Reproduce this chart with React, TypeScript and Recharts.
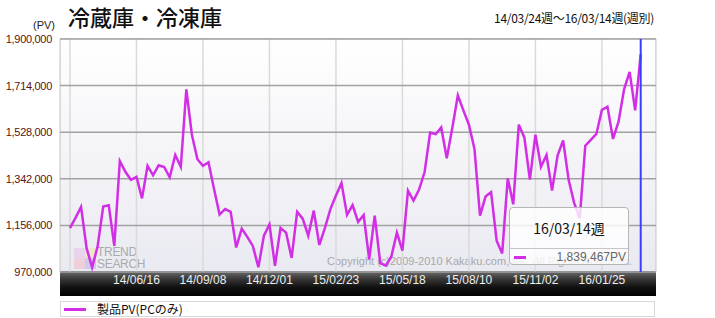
import React from 'react';
import { LineChart, Line, XAxis, YAxis, CartesianGrid, Tooltip, Legend } from 'recharts';

// weekly product PV (PC only), 14/03/24 week .. 16/03/14 week
const pvValues = [
  1145000, 1186000, 1230000, 1065000, 988000, 1074000, 1231000, 1236000, 1074000, 1413000,
  1370000, 1338000, 1350000, 1264000, 1394000, 1356000, 1396000, 1389000, 1348000, 1437000,
  1390000, 1699000, 1518000, 1420000, 1394000, 1408000, 1301000, 1199000, 1221000, 1210000,
  1068000, 1143000, 1110000, 1074000, 989000, 1115000, 1160000, 995000, 1146000, 1127000,
  1026000, 1210000, 1183000, 1115000, 1215000, 1078000, 1145000, 1221000, 1275000, 1325000,
  1198000, 1237000, 1170000, 1197000, 1021000, 1195000, 1005000, 995000, 1032000, 1127000,
  1055000, 1295000, 1255000, 1299000, 1369000, 1526000, 1520000, 1547000, 1424000, 1545000,
  1675000, 1615000, 1558000, 1461000, 1195000, 1271000, 1289000, 1095000, 1044000, 1344000,
  1240000, 1558000, 1507000, 1339000, 1518000, 1390000, 1437000, 1295000, 1435000, 1495000,
  1337000, 1245000, 1185000, 1474000, 1497000, 1521000, 1617000, 1630000, 1501000, 1570000,
  1699000, 1769000, 1615000, 1839467,
];

const yTicks = [970000, 1156000, 1342000, 1528000, 1714000, 1900000];
const xTickIdx = [0, 12, 24, 36, 48, 60, 72, 84, 96];
const xTickLabels = ['', '14/06/16', '14/09/08', '14/12/01', '15/02/23', '15/05/18', '15/08/10', '15/11/02', '16/01/25'];

const FIRST_WEEK = Date.UTC(2014, 2, 24);
const pad2 = (n: number) => (n < 10 ? '0' : '') + n;
const weekLabel = (i: number) => {
  const d = new Date(FIRST_WEEK + i * 7 * 86400000);
  return `${pad2(d.getUTCFullYear() % 100)}/${pad2(d.getUTCMonth() + 1)}/${pad2(d.getUTCDate())}`;
};

const data = pvValues.map((pv, i) => ({ i, week: weekLabel(i), pv }));

const JP = '"Noto Sans CJK JP", "Noto Sans", sans-serif';
const LAT = '"Liberation Sans", Arial, sans-serif';
const LINE_COLOR = '#d22ee6';

const TipBox = ({ active, payload }: any) => {
  if (!active || !payload || !payload.length) return null;
  const p = payload[0].payload;
  return (
    <div
      style={{
        width: 120,
        height: 58,
        boxSizing: 'border-box',
        background: 'rgba(255,255,255,0.8)',
        border: '1px solid #b5b5b5',
        borderRadius: 4,
        fontFamily: JP,
      }}
    >
      <div style={{ height: 40, lineHeight: '40px', textAlign: 'center', fontSize: 14, color: '#111' }}>
        {p.week}週
      </div>
      <div style={{ borderTop: '1px solid #c6c6c6', height: 16, display: 'flex', alignItems: 'center' }}>
        <span style={{ display: 'inline-block', width: 12, height: 3, background: LINE_COLOR, marginLeft: 4 }} />
        <span style={{ marginLeft: 'auto', marginRight: 2, fontSize: 12, color: '#666', fontFamily: LAT }}>
          {p.pv.toLocaleString('en-US')}PV
        </span>
      </div>
    </div>
  );
};

const LegendBox = () => (
  <div
    style={{
      width: 595,
      height: 16,
      boxSizing: 'border-box',
      border: '1px solid #d8d8d8',
      background: '#fff',
      display: 'flex',
      alignItems: 'center',
    }}
  >
    <span style={{ display: 'inline-block', width: 22, height: 3, background: LINE_COLOR, marginLeft: 3 }} />
    <span style={{ marginLeft: 11, fontSize: 12, fontFamily: JP, color: '#111', lineHeight: '14px' }}>製品PV(PCのみ)</span>
  </div>
);

export default function App() {
  return (
    <div style={{ position: 'absolute', left: 0, top: 0, width: 715, height: 318, background: '#fff', overflow: 'hidden' }}>
      {/* header */}
      <div style={{ position: 'absolute', left: 68, top: 3, fontFamily: JP, fontSize: 22, fontWeight: 500, color: '#111', lineHeight: '26px' }}>
        冷蔵庫・冷凍庫
      </div>
      <div style={{ position: 'absolute', left: 33, top: 19, fontFamily: LAT, fontSize: 11, color: '#222', lineHeight: '13px' }}>(PV)</div>
      <div style={{ position: 'absolute', right: 61, top: 10, fontFamily: JP, fontSize: 12, color: '#111', lineHeight: '15px', letterSpacing: -0.3 }}>
        14/03/24週～16/03/14週(週別)
      </div>

      {/* plot background + axis band */}
      <div
        style={{
          position: 'absolute',
          left: 60,
          top: 38,
          width: 596,
          height: 234,
          boxSizing: 'border-box',
          borderLeft: '1px solid #d4d4d4',
          borderRight: '1px solid #d4d4d4',
          borderTop: '1px solid #d4d4d4',
          background: 'linear-gradient(#ffffff, #f2f2f6 60%, #e9e9f1)',
        }}
      />
      <div
        style={{
          position: 'absolute',
          left: 60,
          top: 271,
          width: 596,
          height: 25,
          background: 'linear-gradient(#6e6e6e, #3a3a3a 30%, #111 65%, #000)',
        }}
      />

      {/* watermarks */}
      <div style={{ position: 'absolute', left: 74, top: 248, width: 22, height: 21, opacity: 0.55 }}>
        <div style={{ position: 'absolute', left: 0, top: 0, width: 11, height: 10, background: '#e6c2e6' }} />
        <div style={{ position: 'absolute', left: 11, top: 0, width: 11, height: 10, background: '#f0e6a8' }} />
        <div style={{ position: 'absolute', left: 0, top: 10, width: 11, height: 11, background: '#f2b9c8' }} />
        <div style={{ position: 'absolute', left: 11, top: 10, width: 11, height: 11, background: '#b9b2e8' }} />
      </div>
      <div style={{ position: 'absolute', left: 97, top: 246, fontFamily: LAT, fontSize: 12, color: '#aaa', lineHeight: '12px', letterSpacing: -0.3 }}>
        TREND
        <br />
        SEARCH
      </div>
      <div style={{ position: 'absolute', left: 327, top: 255, fontFamily: LAT, fontSize: 11, color: '#a8a8a8', lineHeight: '13px', whiteSpace: 'nowrap' }}>
        Copyright (c)2009-2010 Kakaku.com, Inc. All Rights Reserved.
      </div>

      <div style={{ position: 'absolute', left: 0, top: 0 }}>
        <LineChart width={715} height={318} data={data} margin={{ top: 39, right: 59, bottom: 21, left: 0 }}>
          <CartesianGrid horizontal={false} stroke="#dadada" strokeWidth={1.5} />
          <CartesianGrid vertical={false} stroke="#a2a2a2" strokeWidth={1.5} />
          <XAxis
            type="number"
            dataKey="i"
            domain={[-1.8, 105.76]}
            allowDataOverflow
            ticks={xTickIdx}
            interval={0}
            tickFormatter={(v: number) => xTickLabels[xTickIdx.indexOf(v)] ?? ''}
            height={25}
            axisLine={false}
            tickLine={false}
            tickSize={0}
            tickMargin={3}
            tick={{ fill: '#eeeeee', fontSize: 12, fontFamily: LAT }}
          />
          <YAxis
            type="number"
            domain={[970000, 1900000]}
            ticks={yTicks}
            interval={0}
            width={60}
            axisLine={false}
            tickLine={false}
            tickSize={0}
            tickMargin={8}
            tickFormatter={(v: number) => v.toLocaleString('en-US')}
            tick={{ fill: '#5a1212', fontSize: 11, fontFamily: LAT, letterSpacing: -0.3 }}
          />
          <Line
            type="linear"
            dataKey="pv"
            stroke={LINE_COLOR}
            strokeWidth={2.5}
            dot={false}
            activeDot={false}
            isAnimationActive={false}
          />
          <Tooltip
            active
            defaultIndex={103}
            position={{ x: 509, y: 207 }}
            isAnimationActive={false}
            cursor={{ stroke: '#3c3cff', strokeWidth: 2 }}
            content={<TipBox />}
            wrapperStyle={{ outline: 'none', zIndex: 5 }}
          />
          <Legend
            layout="horizontal"
            verticalAlign="middle"
            align="center"
            content={<LegendBox />}
            wrapperStyle={{ left: 60, top: 301, width: 595, height: 16 }}
          />
        </LineChart>
      </div>
    </div>
  );
}
